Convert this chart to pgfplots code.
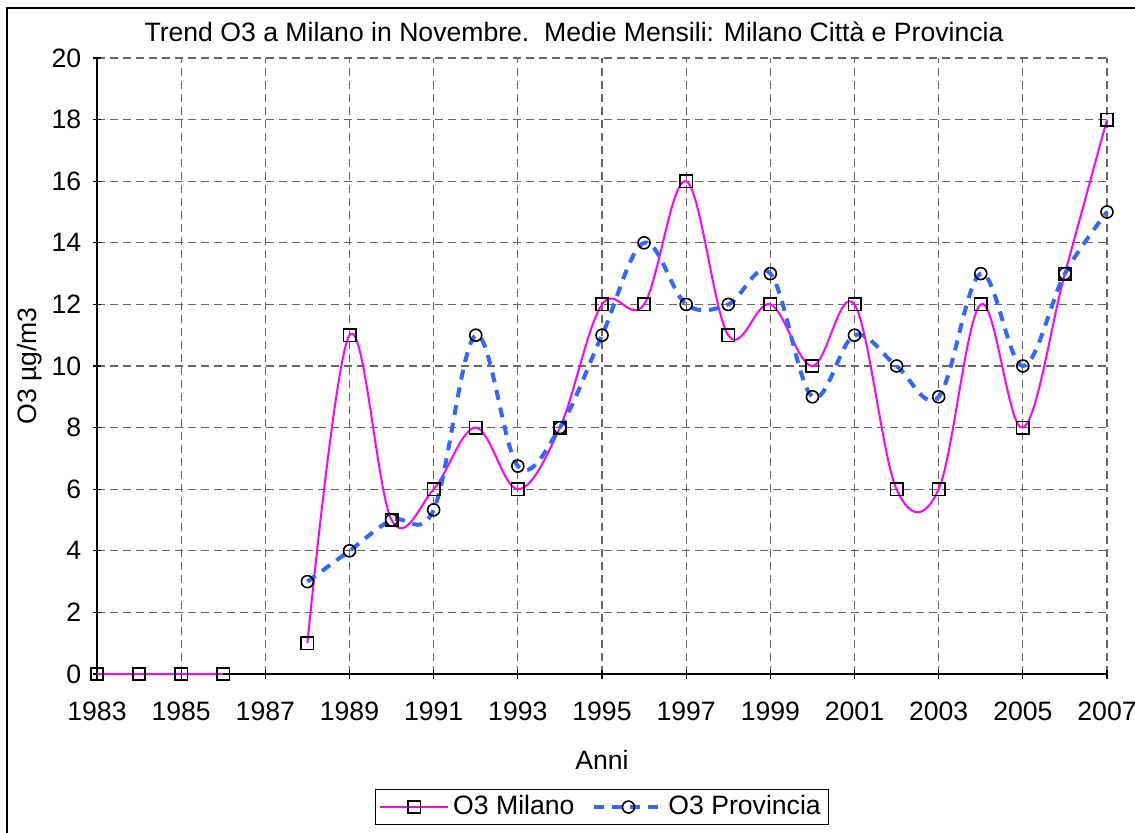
\documentclass[border=0pt]{standalone}
\usepackage{pgfplots}
\pgfplotsset{compat=1.18}
\usepackage{fontspec}
\setmainfont{Liberation Sans}
\definecolor{milano}{RGB}{255,0,255}
\definecolor{prov}{RGB}{51,102,255}
\begin{document}
\fontsize{13.3}{16}\selectfont
\begin{tikzpicture}
\useasboundingbox (-48.5pt,-79pt) rectangle (519pt,337pt);
\fill[white] (-48.5pt,-79pt) rectangle (519pt,337pt);
\draw[line width=0.75pt] (-45pt,-82pt) -- (-45pt,333pt) -- (522pt,333pt);
\begin{axis}[
  at={(0pt,0pt)}, anchor=south west,
  scale only axis, width=505pt, height=308pt,
  xmin=1983, xmax=2007, ymin=0, ymax=20,
  xtick={1983,1985,...,2007}, ytick={0,2,...,20},
  /pgf/number format/1000 sep={},
  /pgf/number format/assume math mode=true,
  ticklabel style={font=\fontsize{13.3}{16}\selectfont},
  xticklabel style={yshift=-7pt},
  yticklabel style={xshift=-1pt},
  axis x line*=bottom, axis y line*=left,
  axis line style={line width=0.6pt, black, -},
  tick align=center, major tick length=4.5pt,
  tick style={black, line width=0.6pt},
  grid=major,
  major grid style={black!60, line width=0.6pt, dash pattern=on 4pt off 2.5pt},
  legend columns=2,
  legend style={at={(rel axis cs:0.5,-0.216)}, anchor=center, draw=black, line width=0.6pt,
    font=\fontsize{13.3}{16}\selectfont, inner xsep=2pt, inner ysep=1pt,
    /tikz/every even column/.append style={column sep=7pt}},
  legend cell align=left,
  legend image code/.code={
    \draw[#1] (0pt,0pt) -- (34pt,0pt);
    \draw[#1, only marks] plot coordinates {(17pt,0pt)};
  },
  clip=false,
]
\addplot[color=milano, line width=1pt, smooth, tension=0.6, forget plot,
  mark=square, mark size=3.1pt, mark options={draw=black, solid, fill=none, line width=0.8pt}]
  coordinates {(1983,0) (1984,0) (1985,0) (1986,0)};
\addplot[color=milano, line width=1pt, smooth, tension=0.6,
  mark=square, mark size=3.1pt, mark options={draw=black, solid, fill=none, line width=0.8pt}]
  coordinates {
  (1988,1) (1989,11) (1990,5) (1991,6) (1992,8) (1993,6) (1994,8) (1995,12)
  (1996,12) (1997,16) (1998,11) (1999,12) (2000,10) (2001,12) (2002,6)
  (2003,6) (2004,12) (2005,8) (2006,13) (2007,18)};
\addlegendentry{O3 Milano}
\addplot[color=prov, line width=2pt, smooth, tension=0.6, dash pattern=on 5pt off 4pt,
  mark=o, mark size=3pt, mark options={draw=black, solid, fill=none, line width=0.8pt}]
  coordinates {
  (1988,3) (1989,4) (1990,5) (1991,5.33) (1992,11) (1993,6.75) (1994,8) (1995,11)
  (1996,14) (1997,12) (1998,12) (1999,13) (2000,9) (2001,11) (2002,10)
  (2003,9) (2004,13) (2005,10) (2006,13) (2007,15)};
\addlegendentry{O3 Provincia}
\end{axis}
\node at (238.5pt,321pt) {Trend O3 a Milano in Novembre.~~Medie Mensili: Milano Città e Provincia};
\node at (252.5pt,-43pt) {Anni};
\node[rotate=90] at (-33.5pt,154pt) {O3 µg/m3};
\end{tikzpicture}
\end{document}
